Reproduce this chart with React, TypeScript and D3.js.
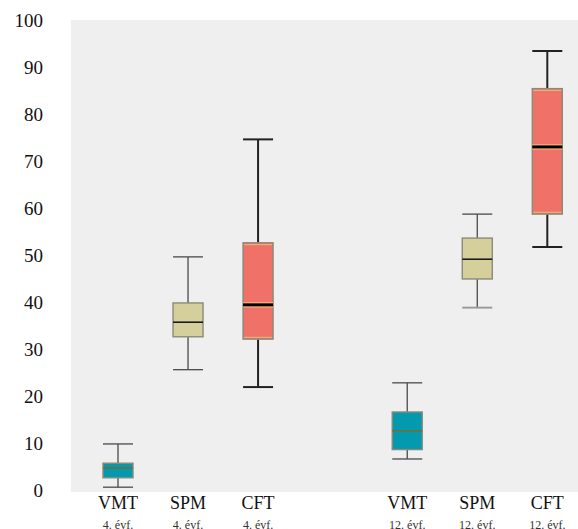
import React from "react";
import * as d3 from "d3";

const categories = ["VMT", "SPM", "CFT", "VMT", "SPM", "CFT"];
const grades = ["4. évf.", "4. évf.", "4. évf.", "12. évf.", "12. évf.", "12. évf."];
const groupIndex = [0, 0, 0, 1, 1, 1];
const whiskerLow = [0.6, 25.6, 21.9, 6.6, 38.8, 51.7];
const q1 = [2.6, 32.6, 32.1, 8.6, 44.9, 58.7];
const median = [4.7, 35.7, 39.4, 12.6, 49.1, 73.0];
const q3 = [5.7, 39.8, 52.6, 16.6, 53.6, 85.4];
const whiskerHigh = [9.8, 49.6, 74.6, 22.8, 58.7, 93.4];
const yTicks = [0, 10, 20, 30, 40, 50, 60, 70, 80, 90, 100];

const fills: Record<string, string> = { VMT: "#0399ae", SPM: "#d5cf9c", CFT: "#ef7167" };
const medianColor: Record<string, string> = { VMT: "#7c6a35", SPM: "#1a1a1a", CFT: "#000000" };

export default function App() {
  const W = 578, H = 529;
  const plotLeft = 71, plotTop = 20, plotBottom = 492;
  const y = d3.scaleLinear().domain([0, 100]).range([490, 20]);
  const slot = categories.map((_, i) => i + groupIndex[i] * 1.13);
  const x = d3.scaleLinear().domain([0, 6.14]).range([118, 548]);
  const bw = 30, capW = 15;
  const font = "'Liberation Serif', 'DejaVu Serif', serif";

  return (
    <svg width={W} height={H} style={{ position: "absolute", left: 0, top: 0 }}>
      <rect x={plotLeft} y={plotTop} width={W - plotLeft} height={plotBottom - plotTop} fill="#efefef" />
      {yTicks.map((t) => (
        <text key={t} x={43} y={y(t)} dy="0.35em" textAnchor="end" fontFamily={font} fontSize={19} fill="#111">
          {t}
        </text>
      ))}
      {categories.map((c, i) => {
        const cx = x(slot[i]);
        const isCFT = c === "CFT";
        const wColor = isCFT ? "#222" : "#4a4a4a";
        const wWidth = isCFT ? 2 : 1.3;
        return (
          <g key={i}>
            <line x1={cx} x2={cx} y1={y(whiskerHigh[i])} y2={y(q3[i])} stroke={wColor} strokeWidth={wWidth} />
            <line x1={cx} x2={cx} y1={y(q1[i])} y2={y(whiskerLow[i])} stroke={wColor} strokeWidth={wWidth} />
            <line x1={cx - capW} x2={cx + capW} y1={y(whiskerHigh[i])} y2={y(whiskerHigh[i])} stroke={wColor} strokeWidth={wWidth} />
            <line x1={cx - capW} x2={cx + capW} y1={y(whiskerLow[i])} y2={y(whiskerLow[i])} stroke={i === 4 ? "#999" : wColor} strokeWidth={wWidth + (i === 4 ? 0.6 : 0)} />
            <rect
              x={cx - bw / 2}
              y={y(q3[i])}
              width={bw}
              height={y(q1[i]) - y(q3[i])}
              fill={fills[c]}
              stroke="#8a8a7a"
              strokeWidth={1.4}
            />
            {isCFT && (
              <>
                <line x1={cx - bw / 2 + 1} x2={cx + bw / 2 - 1} y1={y(q3[i]) + 1.8} y2={y(q3[i]) + 1.8} stroke="#e6b27a" strokeWidth={1.2} />
                <line x1={cx - bw / 2 + 1} x2={cx + bw / 2 - 1} y1={y(q1[i]) - 1.8} y2={y(q1[i]) - 1.8} stroke="#e6b27a" strokeWidth={1.2} />
                <line x1={cx - bw / 2} x2={cx + bw / 2} y1={y(median[i]) - 2.2} y2={y(median[i]) - 2.2} stroke="#e6b27a" strokeWidth={1.2} />
                <line x1={cx - bw / 2} x2={cx + bw / 2} y1={y(median[i]) + 2.2} y2={y(median[i]) + 2.2} stroke="#e6b27a" strokeWidth={1.2} />
              </>
            )}
            <line
              x1={cx - bw / 2}
              x2={cx + bw / 2}
              y1={y(median[i])}
              y2={y(median[i])}
              stroke={medianColor[c]}
              strokeWidth={isCFT ? 2.8 : 1.6}
            />
            <text x={cx} y={509} textAnchor="middle" fontFamily={font} fontSize={18} fill="#111">
              {c}
            </text>
            <text x={cx} y={529} textAnchor="middle" fontFamily={font} fontSize={12} fill="#333">
              {grades[i]}
            </text>
          </g>
        );
      })}
    </svg>
  );
}
